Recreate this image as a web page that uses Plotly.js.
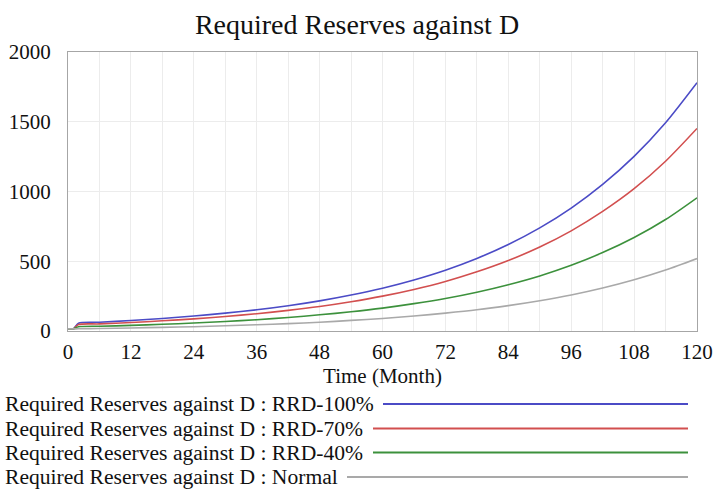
<!DOCTYPE html>
<html>
<head>
<meta charset="utf-8">
<script src="https://cdn.plot.ly/plotly-3.0.1.min.js"></script>
<style>
html,body{margin:0;padding:0;background:#fff;}
#chart{width:715px;height:491px;}
</style>
</head>
<body>
<div id="chart"></div>
<script>
// ---- data ----
var months = [0,1,2,6,12,18,24,30,36,42,48,54,60,66,72,78,84,90,96,102,108,114,120];
var rrd100 = [15,15,56,63,75,90,107,128,152,181,216,258,307,366,436,520,620,739,881,1051,1252,1493,1780];
var rrd70  = [15,15,46,51,61,73,87,104,124,148,176,210,250,298,355,424,505,602,718,857,1020,1217,1452];
var rrd40  = [15,15,30,34,40,48,57,68,81,97,116,138,164,196,233,278,332,395,471,562,670,799,955];
var normal = [15,15,16,18,22,26,31,38,45,53,63,76,90,107,128,152,182,217,258,308,367,437,519];

var seriesNames = [
  "Required Reserves against D : RRD-100%",
  "Required Reserves against D : RRD-70%",
  "Required Reserves against D : RRD-40%",
  "Required Reserves against D : Normal"
];
var seriesValues = [rrd100, rrd70, rrd40, normal];
var seriesColors = ["#4b4bc6", "#d24f4f", "#3c913c", "#a9a9a9"];
var xTicks = [0,12,24,36,48,60,72,84,96,108,120];
var yTicks = [0,500,1000,1500,2000];

// ---- geometry ----
var W = 715, H = 491;
var M = {l:68, r:18, t:52, b:160};
var plotW = W - M.l - M.r, plotH = H - M.t - M.b;
function px2x(px){ return (px - M.l) / plotW; }
function py2y(py){ return (H - M.b - py) / plotH; }

var font = "'Liberation Serif', 'Times New Roman', serif";

var traces = seriesValues.map(function(vals, i){
  return {
    x: months, y: vals, type: "scatter", mode: "lines",
    name: seriesNames[i],
    line: {color: seriesColors[i], width: 1.6, shape: "spline", smoothing: 0.8},
    showlegend: false, hoverinfo: "x+y+name"
  };
});

// custom legend (Vensim style, long line samples)
var legendRowsY = [404, 428.5, 452.5, 477];
var legendLineStart = [383, 373, 373, 347];
var legendLineEnd = 688;
var annotations = [];
var shapes = [];
seriesNames.forEach(function(nm, i){
  annotations.push({
    text: nm, xref: "paper", yref: "paper",
    x: px2x(3), y: py2y(legendRowsY[i]), xanchor: "left", yanchor: "middle",
    showarrow: false, font: {family: font, size: 21.6, color: "#111"}
  });
  shapes.push({
    type: "line", xref: "paper", yref: "paper",
    x0: px2x(legendLineStart[i]), x1: px2x(legendLineEnd),
    y0: py2y(legendRowsY[i]), y1: py2y(legendRowsY[i]),
    line: {color: seriesColors[i], width: 2}
  });
});

var layout = {
  width: W, height: H,
  margin: M,
  paper_bgcolor: "#fff", plot_bgcolor: "#fff",
  font: {family: font, size: 21, color: "#111"},
  title: {text: "Required Reserves against D", font: {family: font, size: 28, color: "#111"},
          x: 357/W, xref: "container", xanchor: "center", y: 1 - 24/H, yref: "container", yanchor: "middle"},
  xaxis: {
    range: [0, 120], tickvals: xTicks, ticktext: xTicks.map(String),
    showgrid: true, gridcolor: "#ececec", gridwidth: 1,
    minor: {dtick: 6, tick0: 0, showgrid: true, gridcolor: "#ececec", gridwidth: 1},
    zeroline: false, showline: true, linecolor: "#a6a6a6", linewidth: 1, mirror: true,
    ticks: "", ticklabelstandoff: 2,
    tickfont: {family: font, size: 21, color: "#111"},
    title: {text: "Time (Month)", font: {family: font, size: 21, color: "#111"}, standoff: 0}
  },
  yaxis: {
    range: [0, 2000], tickvals: yTicks, ticktext: yTicks.map(String),
    showgrid: true, gridcolor: "#ececec", gridwidth: 1,
    zeroline: false, showline: true, linecolor: "#a6a6a6", linewidth: 1, mirror: true,
    ticks: "", ticklabelstandoff: 12,
    tickfont: {family: font, size: 21, color: "#111"}
  },
  annotations: annotations,
  shapes: shapes
};

Plotly.newPlot("chart", traces, layout, {displayModeBar: false, staticPlot: true});
</script>
</body>
</html>
